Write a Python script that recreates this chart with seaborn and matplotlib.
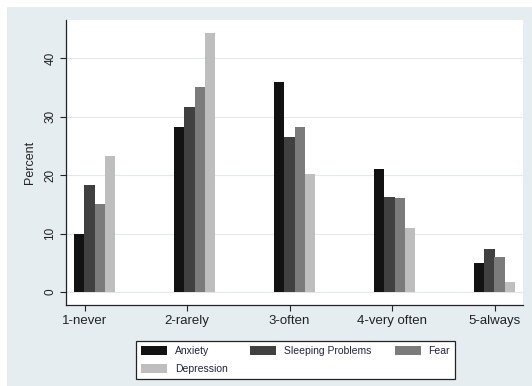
import numpy as np
import pandas as pd
import matplotlib
matplotlib.use("Agg")
import matplotlib.pyplot as plt
import seaborn as sns
from matplotlib.patches import Rectangle

categories = ["1-never", "2-rarely", "3-often", "4-very often", "5-always"]
symptoms = ["Anxiety", "Sleeping Problems", "Fear", "Depression"]
anxiety = [10.0, 28.3, 35.9, 21.1, 4.9]
sleeping = [18.3, 31.7, 26.5, 16.3, 7.4]
fear = [15.0, 35.1, 28.3, 16.1, 6.0]
depression = [23.3, 44.2, 20.2, 10.9, 1.7]
yticks = [0, 10, 20, 30, 40]
colors = ["#121212", "#404040", "#7b7b7b", "#bebebe"]

df = pd.DataFrame({
    "category": categories * 4,
    "symptom": np.repeat(symptoms, len(categories)),
    "percent": anxiety + sleeping + fear + depression,
})

sns.set_style("white")
plt.rcParams["font.family"] = ["Liberation Sans", "DejaVu Sans"]

bg = "#e6edf1"
fig = plt.figure(figsize=(5.32, 3.86), dpi=100)
fig.patch.set_facecolor("white")
# stata-like graph region, with a thin white strip on top/left
fig.patches.append(Rectangle((7 / 532, 0), 1, 379 / 386, transform=fig.transFigure,
                             facecolor=bg, edgecolor="none", zorder=-10))

ax = fig.add_axes([66 / 532, 81 / 386, 457 / 532, 285 / 386])
ax.set_facecolor("white")

sns.barplot(data=df, x="category", y="percent", hue="symptom",
            order=categories, hue_order=symptoms, palette=colors,
            width=0.41, gap=0, linewidth=0, saturation=1, errorbar=None,
            ax=ax)

ax.set_xlim(-0.285, 4.285)
ax.set_ylim(-2.2, 46.5)

ax.set_yticks(yticks)
ax.set_yticklabels([str(t) for t in yticks], rotation=90, va="center", fontsize=8.5)
ax.set_xticks(np.linspace(-0.1, 4.0, 5))
ax.set_xticklabels(categories, fontsize=9.5)
ax.tick_params(axis="both", direction="out", length=4, width=0.8, color="#222222",
               labelcolor="#222222", pad=3)
ax.tick_params(axis="x", bottom=True)
ax.tick_params(axis="y", left=True)

for t in yticks:
    ax.axhline(t, color="#e1e9ee", linewidth=0.8, zorder=0)

for s in ["top", "right"]:
    ax.spines[s].set_visible(False)
for s in ["left", "bottom"]:
    ax.spines[s].set_color("#222222")
    ax.spines[s].set_linewidth(0.9)

ax.set_xlabel("")
ax.set_ylabel("Percent", fontsize=9, color="#222222", labelpad=6)

handles, labels = ax.get_legend_handles_labels()
order = [0, 3, 1, 2]
ax.legend([handles[i] for i in order], [labels[i] for i in order],
          ncol=3, loc="upper left", bbox_to_anchor=(131 / 532, 50 / 386),
          bbox_transform=fig.transFigure, frameon=True, fancybox=False,
          edgecolor="#222222", facecolor="white", framealpha=1,
          fontsize=7.5, handlelength=2.5, handleheight=1.0,
          columnspacing=2.2, labelspacing=0.75, borderpad=0.45,
          handletextpad=0.75, labelcolor="#222244")
ax.get_legend().get_frame().set_linewidth(0.9)

fig.savefig("out.png", dpi=100)
